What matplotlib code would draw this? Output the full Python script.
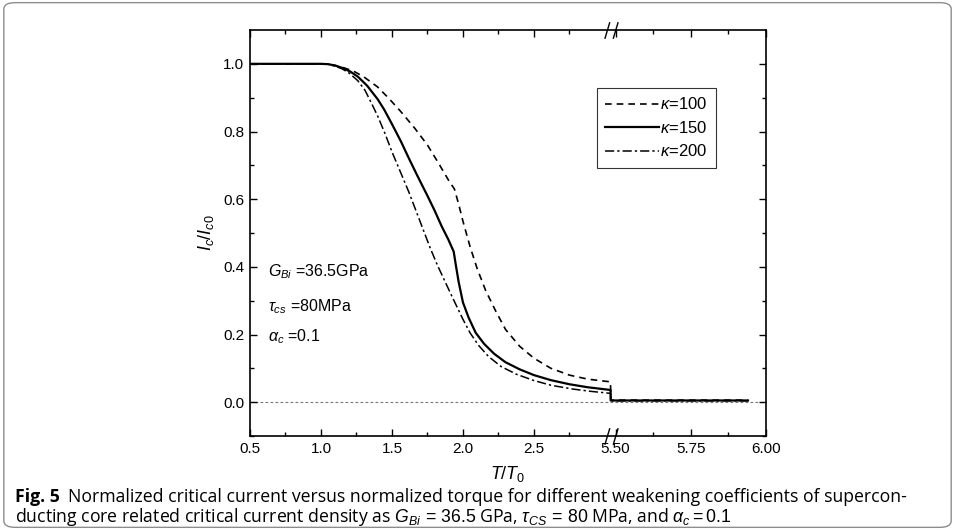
import numpy as np
import matplotlib
matplotlib.use("Agg")
import matplotlib.pyplot as plt
from matplotlib.patches import FancyBboxPatch
from matplotlib.path import Path

plt.rcParams['font.family'] = ['Liberation Sans', 'DejaVu Sans']
plt.rcParams['mathtext.fontset'] = 'custom'
plt.rcParams['mathtext.rm'] = 'Liberation Sans'
plt.rcParams['mathtext.it'] = 'Liberation Sans:italic'
plt.rcParams['mathtext.bf'] = 'Liberation Sans:bold'

# ---------------- data ----------------
x100 = [0.5, 1.0, 1.05, 1.1, 1.15, 1.231, 1.30, 1.398, 1.48, 1.56, 1.66, 1.75, 1.83, 1.90,
        1.94, 1.97, 2.0, 2.05, 2.10, 2.16, 2.23, 2.30, 2.40, 2.50, 2.62, 2.75, 2.88, 3.04,
        5.484, 5.6, 5.7, 5.8, 5.94]
y100 = [1.0, 1.0, 0.999, 0.995, 0.99, 0.978, 0.962, 0.932, 0.897, 0.860, 0.81, 0.76, 0.705, 0.655,
        0.630, 0.585, 0.535, 0.46, 0.395, 0.33, 0.27, 0.215, 0.165, 0.13, 0.10, 0.08, 0.068, 0.06,
        0.006, 0.006, 0.006, 0.006, 0.006]

x150 = [0.5, 1.0, 1.05, 1.1, 1.15, 1.207, 1.26, 1.326, 1.40, 1.445, 1.50, 1.564, 1.62, 1.684,
        1.75, 1.802, 1.85, 1.898, 1.935, 1.95, 1.97, 2.0, 2.04, 2.09, 2.15, 2.22, 2.30, 2.40,
        2.50, 2.62, 2.75, 2.88, 3.04,
        5.484, 5.6, 5.7, 5.8, 5.94]
y150 = [1.0, 1.0, 0.999, 0.995, 0.988, 0.977, 0.962, 0.935, 0.895, 0.865, 0.822, 0.77, 0.72, 0.665,
        0.61, 0.565, 0.52, 0.48, 0.445, 0.405, 0.355, 0.295, 0.25, 0.205, 0.172, 0.143, 0.118, 0.097,
        0.080, 0.065, 0.053, 0.044, 0.036,
        0.005, 0.005, 0.005, 0.005, 0.005]

x200 = [0.5, 1.0, 1.05, 1.1, 1.15, 1.20, 1.26, 1.31, 1.36, 1.40, 1.45, 1.50, 1.56, 1.62, 1.67,
        1.72, 1.77, 1.82, 1.87, 1.92, 1.96, 2.0, 2.05, 2.11, 2.18, 2.27, 2.38, 2.50, 2.62, 2.77,
        2.90, 3.04,
        5.484, 5.6, 5.7, 5.8, 5.94]
y200 = [1.0, 1.0, 0.999, 0.993, 0.985, 0.972, 0.95, 0.922, 0.88, 0.845, 0.795, 0.74, 0.68, 0.62, 0.565,
        0.51, 0.455, 0.405, 0.36, 0.315, 0.28, 0.245, 0.205, 0.168, 0.135, 0.105, 0.082, 0.064, 0.05, 0.039,
        0.032, 0.026,
        0.004, 0.004, 0.004, 0.004, 0.004]

labels = [r'$\kappa$=100', r'$\kappa$=150', r'$\kappa$=200']
xticks_major = [0.5, 1.0, 1.5, 2.0, 2.5, 5.5, 5.75, 6.0]
xtick_labels = ['0.5', '1.0', '1.5', '2.0', '2.5', '5.50', '5.75', '6.00']
xticks_minor = [0.75, 1.25, 1.75, 2.25, 2.75, 5.625, 5.875]
yticks_major = [0.0, 0.2, 0.4, 0.6, 0.8, 1.0]
ytick_labels = ['0.0', '0.2', '0.4', '0.6', '0.8', '1.0']
yticks_minor = [-0.1, 0.1, 0.3, 0.5, 0.7, 0.9]

# ---------------- broken x scale ----------------
A, B, K, EPS = 3.04, 5.484, 2.12, 0.001

def fwd(x):
    x = np.asarray(x, dtype=float)
    return np.where(x <= A, x,
                    np.where(x < B, A + (x - A) / (B - A) * EPS,
                             A + EPS + (x - B) * K))

def inv(u):
    u = np.asarray(u, dtype=float)
    return np.where(u <= A, u,
                    np.where(u < A + EPS, A + (u - A) / EPS * (B - A),
                             B + (u - A - EPS) / K))

fig = plt.figure(figsize=(9.55, 5.30), dpi=100)
L, R, T, Bt = 250, 766, 30, 436
ax = fig.add_axes([L / 955, 1 - Bt / 530, (R - L) / 955, (Bt - T) / 530])
ax.set_xscale('function', functions=(fwd, inv))
ax.set_xlim(0.5, 6.0)
ax.set_ylim(-0.1, 1.1)

ax.axhline(0.0, color='#777777', lw=0.8, ls=(0, (2.5, 2)), zorder=1)

ax.plot(x100, y100, color='black', lw=1.2, ls=(0, (4, 3)), label=labels[0])
ax.plot(x150, y150, color='black', lw=1.6, ls='-', label=labels[1])
ax.plot(x200, y200, color='black', lw=1.1, ls=(0, (6, 2, 1.5, 2)), label=labels[2])

ax.set_xticks(xticks_major)
ax.set_xticklabels(xtick_labels)
ax.set_xticks(xticks_minor, minor=True)
ax.set_yticks(yticks_major)
ax.set_yticklabels(ytick_labels)
ax.set_yticks(yticks_minor, minor=True)

ax.tick_params(which='both', direction='in', top=True, right=True, width=1.0,
               labelsize=11, pad=4)
ax.tick_params(which='major', length=5)
ax.tick_params(which='minor', length=3)
for s in ax.spines.values():
    s.set_linewidth(1.2)

ax.set_xlabel(r'$T/T_0$', fontsize=13, labelpad=6)
ax.set_ylabel(r'$I_c/I_{c0}$', fontsize=13, labelpad=5)

leg = ax.legend(loc='upper right', bbox_to_anchor=(0.903, 0.857), borderaxespad=0,
                frameon=True, fancybox=False, edgecolor='black', fontsize=12,
                handlelength=3.2, handletextpad=0.1, labelspacing=0.45,
                borderpad=0.5)
leg.get_frame().set_linewidth(0.8)

ax.text(0.035, 0.404, r'$G_{Bi}$ =36.5GPa', transform=ax.transAxes, fontsize=11.5, va='center')
ax.text(0.035, 0.318, r'$\tau_{cs}$ =80MPa', transform=ax.transAxes, fontsize=11.5, va='center')
ax.text(0.035, 0.244, r'$\alpha_c$ =0.1', transform=ax.transAxes, fontsize=11.5, va='center')

# break marks on top and bottom spines
brk = Path([(-1.6, -2.0), (-0.4, 2.0), (0.4, -2.0), (1.6, 2.0)],
           [Path.MOVETO, Path.LINETO, Path.MOVETO, Path.LINETO])
for yy in (0.0, 1.0):
    ax.plot([A], [yy], transform=ax.get_xaxis_transform(), marker=brk,
            markersize=12, color='black', mew=1.0, clip_on=False, zorder=5)

# caption
cap_font = ['Open Sans', 'DejaVu Sans']
t1 = fig.text(15 / 955, 1 - 502 / 530, 'Fig. 5', fontsize=12.7, fontweight='bold',
              family=cap_font, va='baseline')
plt.annotate('Normalized critical current versus normalized torque for different weakening coefficients of supercon-',
             xy=(1, 0), xycoords=t1, xytext=(6, 0), textcoords='offset points',
             fontsize=12.7, family=cap_font, va='bottom', annotation_clip=False)
fig.text(15 / 955, 1 - 522 / 530,
         r'ducting core related critical current density as $G_{Bi}\,=\,36.5$ GPa, $\tau_{CS}\,=\,80$ MPa, and $\alpha_c = 0.1$',
         fontsize=12.7, family=cap_font, va='baseline')

border = FancyBboxPatch((0.004, 0.005), 0.992, 0.99, boxstyle='round,pad=0,rounding_size=0.012',
                        transform=fig.transFigure, fill=False, edgecolor='#8c8c8c', lw=1.0)
fig.patches.append(border)

fig.savefig('out.png', dpi=100)
